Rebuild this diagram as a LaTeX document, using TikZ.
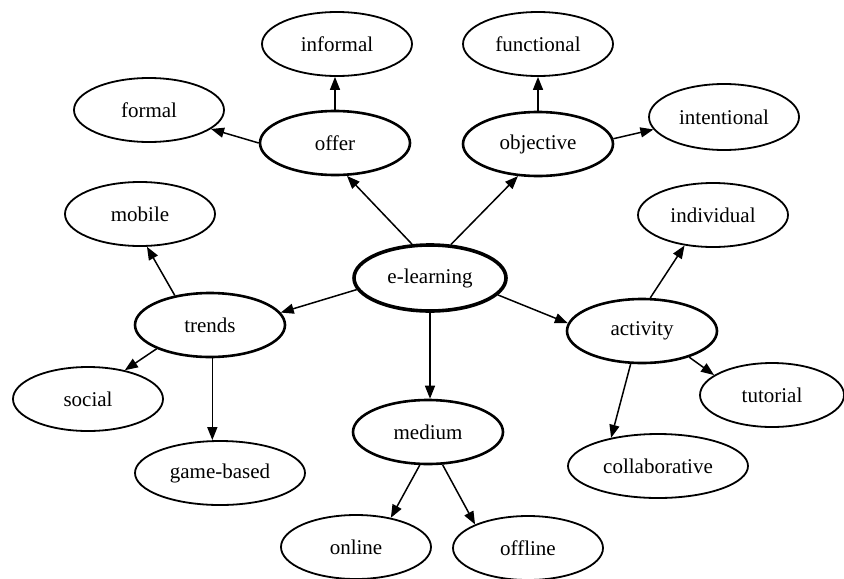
\documentclass[tikz,border=0pt]{standalone}
\usepackage{fontspec}
\setmainfont{Liberation Serif}
\usetikzlibrary{arrows.meta,shapes.geometric}

\begin{document}
\begin{tikzpicture}[x=0.5pt,y=-0.5pt,
  leaf/.style={ellipse,draw,line width=0.9pt,minimum width=75pt,minimum height=32pt,inner sep=0pt,font=\fontsize{10.5}{12}\selectfont},
  mid/.style={leaf,line width=1.3pt},
  root/.style={leaf,line width=1.8pt,minimum width=76pt,minimum height=33pt},
  arr/.style={line width=0.75pt,-{Triangle[length=6.5pt,width=5pt]}}]
\useasboundingbox (0,0) rectangle (844,578);

\node(el) [root] at (430,278) {e-learning};
\node(offer) [mid] at (335,143) {offer};
\node(objective) [mid] at (538,144) {objective};
\node(trends) [mid] at (210,325) {trends};
\node(medium) [mid] at (428,432) {medium};
\node(activity) [mid] at (642,331) {activity};
\node(informal) [leaf] at (337,44) {informal};
\node(functional) [leaf] at (538,44) {functional};
\node(formal) [leaf] at (149,110) {formal};
\node(intentional) [leaf,minimum height=33pt] at (724,117) {intentional};
\node(mobile) [leaf] at (140,214) {mobile};
\node(individual) [leaf] at (713,215) {individual};
\node(social) [leaf] at (88,399) {social};
\node(gamebased) [leaf,minimum width=85pt] at (220,473) {game-based};
\node(online) [leaf] at (356,547) {online};
\node(offline) [leaf] at (528,548) {offline};
\node(tutorial) [leaf,minimum width=72pt] at (772,395) {tutorial};
\node(collab) [leaf,minimum width=90pt] at (658,466) {collaborative};

\draw[arr] (el.118) to (offer.-70);
\draw[arr] (el.58) to (objective.-122);
\draw[arr] (offer.north) to (offer.north |- informal.south);
\draw[arr] (offer.west) to (formal.-17);
\draw[arr] (objective.north) to (objective.north |- functional.south);
\draw[arr] (objective.4) to (intentional.190);
\draw[arr] (el.189) to (trends.10);
\draw[arr] (trends.140) to (mobile.-78);
\draw[arr] (trends.204) to (social.38);
\draw[arr] (trends.-86) to (trends.-86 |- gamebased.north);
\draw[arr] (el.south) to (el.south |- medium.north);
\draw[arr] (medium.-104) to (online.40);
\draw[arr] (medium.-66) to (offline.156);
\draw[arr] (el.-14) to (activity.174);
\draw[arr] (activity.76) to (individual.-133);
\draw[arr] (activity.-29) to (tutorial.161);
\draw[arr] (activity.-109) to (collab.149);
\end{tikzpicture}
\end{document}
